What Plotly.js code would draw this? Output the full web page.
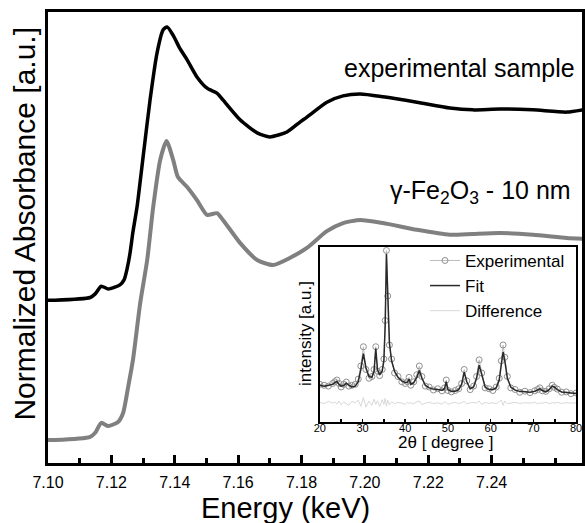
<!DOCTYPE html>
<html>
<head>
<meta charset="utf-8">
<script src="https://cdn.plot.ly/plotly-3.0.1.min.js"></script>
<style>html,body{margin:0;padding:0;background:#fff;}#chart{width:585px;height:523px;}</style>
</head>
<body>
<div id="chart"></div>
<script>
// XANES main panel (energy in keV, normalized absorbance with vertical offset)
const sampleEnergy = [7.1000,7.1022,7.1133,7.1149,7.1168,7.1190,7.1227,7.1240,7.1250,7.1259,7.1268,7.1281,7.1300,7.1322,7.1344,7.1363,7.1376,7.1395,7.1417,7.1439,7.1470,7.1502,7.1533,7.1552,7.1606,7.1660,7.1700,7.1754,7.1795,7.1817,7.1880,7.1931,7.1985,7.2057,7.2164,7.2268,7.2341,7.2426,7.2530,7.2637,7.2688];
const sampleAbs = [0.361,0.361,0.367,0.375,0.392,0.386,0.395,0.406,0.432,0.466,0.512,0.568,0.678,0.805,0.909,0.960,0.967,0.948,0.918,0.894,0.856,0.831,0.820,0.805,0.761,0.732,0.723,0.734,0.756,0.767,0.800,0.814,0.818,0.812,0.800,0.787,0.783,0.785,0.783,0.778,0.783];
const refEnergy = [7.1000,7.1022,7.1133,7.1149,7.1168,7.1190,7.1221,7.1237,7.1253,7.1268,7.1291,7.1313,7.1332,7.1354,7.1374,7.1395,7.1410,7.1439,7.1470,7.1502,7.1533,7.1552,7.1606,7.1660,7.1710,7.1764,7.1817,7.1880,7.1931,7.1985,7.2057,7.2164,7.2268,7.2341,7.2426,7.2530,7.2637,7.2688];
const refAbs = [0.051,0.051,0.058,0.067,0.089,0.082,0.091,0.111,0.169,0.228,0.355,0.450,0.568,0.672,0.714,0.672,0.634,0.612,0.583,0.550,0.554,0.539,0.488,0.450,0.439,0.455,0.477,0.514,0.532,0.539,0.532,0.517,0.506,0.508,0.510,0.506,0.499,0.497];
const energyTicks = [7.10,7.12,7.14,7.16,7.18,7.20,7.22,7.24];

// XRD inset (2theta in degrees, intensity a.u.)
const twoTheta = [20,21,22,23,23.5,24,24.5,25,25.6,26.2,
  26.8,27.5,28.3,29,29.6,30.2,30.8,31.5,32.2,32.7,
  33.1,33.5,34.0,34.6,35.0,35.3,35.6,35.9,36.3,36.8,
  37.5,38.3,39.2,40.0,40.5,40.9,41.3,42.0,42.7,43.3,
  43.9,44.7,45.6,46.6,47.6,48.6,49.2,49.6,50.0,50.8,
  51.7,52.5,53.2,53.8,54.4,55.2,56.0,56.7,57.3,57.9,
  58.7,59.6,60.5,61.3,62.0,62.5,62.9,63.3,63.9,64.7,
  65.7,66.8,68.0,69.2,70.3,71.0,71.5,72.1,72.9,73.7,
  74.4,74.9,75.6,76.6,77.7,78.8,80];
const xrdFit = [0.21,0.205,0.21,0.215,0.225,0.232,0.215,0.205,0.208,0.222,
  0.21,0.2,0.205,0.23,0.3,0.39,0.31,0.26,0.255,0.29,
  0.42,0.3,0.27,0.29,0.35,0.55,0.96,0.7,0.45,0.35,
  0.29,0.255,0.235,0.225,0.225,0.245,0.215,0.225,0.255,0.295,
  0.25,0.21,0.195,0.188,0.183,0.182,0.19,0.23,0.185,0.175,
  0.175,0.185,0.215,0.285,0.23,0.19,0.2,0.25,0.325,0.27,
  0.2,0.185,0.185,0.195,0.24,0.33,0.4,0.35,0.25,0.2,
  0.182,0.175,0.172,0.17,0.175,0.183,0.19,0.18,0.172,0.185,
  0.205,0.2,0.185,0.172,0.168,0.165,0.163];
const xrdExp = [0.215,0.21,0.205,0.22,0.23,0.24,0.22,0.2,0.215,0.228,
  0.205,0.21,0.215,0.245,0.32,0.43,0.3,0.25,0.26,0.3,
  0.43,0.29,0.265,0.3,0.36,0.58,0.98,0.72,0.44,0.36,
  0.28,0.26,0.23,0.22,0.23,0.255,0.21,0.23,0.27,0.32,
  0.26,0.205,0.2,0.183,0.19,0.178,0.195,0.24,0.18,0.172,
  0.18,0.19,0.22,0.3,0.235,0.185,0.205,0.26,0.355,0.28,
  0.195,0.19,0.18,0.2,0.25,0.35,0.44,0.37,0.26,0.195,
  0.186,0.17,0.176,0.168,0.178,0.186,0.195,0.178,0.175,0.19,
  0.21,0.198,0.188,0.17,0.172,0.162,0.166];
const xrdDiff = [0.112,0.105,0.118,0.108,0.115,0.102,0.12,0.098,0.114,0.106,
  0.095,0.118,0.11,0.125,0.09,0.14,0.085,0.12,0.095,0.13,
  0.1,0.122,0.088,0.128,0.1,0.135,0.09,0.125,0.098,0.115,
  0.105,0.112,0.108,0.1,0.114,0.106,0.11,0.104,0.116,0.12,
  0.1,0.108,0.113,0.105,0.11,0.102,0.115,0.112,0.1,0.108,
  0.112,0.106,0.11,0.118,0.104,0.11,0.112,0.108,0.12,0.1,
  0.112,0.106,0.11,0.104,0.115,0.125,0.095,0.12,0.105,0.11,
  0.112,0.106,0.11,0.108,0.112,0.104,0.11,0.107,0.113,0.105,
  0.11,0.108,0.112,0.106,0.11,0.108,0.109];
const thetaTicks = [20,30,40,50,60,70,80];

const FONT = 'Liberation Sans, Arial, Helvetica, sans-serif';

const traces = [
  {x: sampleEnergy, y: sampleAbs, mode: 'lines', line: {color: '#000000', width: 3.5, shape: 'spline', smoothing: 0.6}, showlegend: false, xaxis: 'x', yaxis: 'y', hoverinfo: 'skip'},
  {x: refEnergy, y: refAbs, mode: 'lines', line: {color: '#808080', width: 4, shape: 'spline', smoothing: 0.6}, showlegend: false, xaxis: 'x', yaxis: 'y', hoverinfo: 'skip'},
  {x: twoTheta, y: xrdExp, name: 'Experimental', mode: 'lines+markers', line: {color: '#bdbdbd', width: 1}, marker: {symbol: 'circle-open', size: 6, color: '#909090', line: {width: 1}}, xaxis: 'x2', yaxis: 'y2', hoverinfo: 'skip'},
  {x: twoTheta, y: xrdFit, name: 'Fit', mode: 'lines', line: {color: '#2a2a2a', width: 1.5}, xaxis: 'x2', yaxis: 'y2', hoverinfo: 'skip'},
  {x: twoTheta, y: xrdDiff, name: 'Difference', mode: 'lines', line: {color: '#d8d8d8', width: 1}, xaxis: 'x2', yaxis: 'y2', hoverinfo: 'skip'},
  // transparent copy of the fit on the label-only axis so that axis is drawn
  {x: twoTheta, y: xrdFit, mode: 'lines', line: {color: 'rgba(0,0,0,0)', width: 0}, opacity: 0, showlegend: false, xaxis: 'x3', yaxis: 'y2', hoverinfo: 'skip'}
];

const layout = {
  width: 585, height: 523,
  margin: {l: 48, r: 3, t: 12, b: 60},
  paper_bgcolor: '#ffffff', plot_bgcolor: '#ffffff',
  font: {family: FONT, color: '#000000'},
  xaxis: {
    domain: [0, 1], range: [7.10, 7.2685], anchor: 'y',
    tickvals: energyTicks, tickformat: '.2f',
    ticks: 'inside', ticklen: 8, tickwidth: 3, tickcolor: '#000',
    ticklabelstandoff: 3,
    minor: {dtick: 0.01, tick0: 7.10, ticks: 'inside', ticklen: 5, tickwidth: 3, tickcolor: '#000'},
    showline: true, linewidth: 3, linecolor: '#000', mirror: true,
    showgrid: false, zeroline: false,
    tickfont: {size: 16, family: FONT, color: '#000'}
  },
  yaxis: {
    domain: [0, 1], range: [0, 1], anchor: 'x',
    showticklabels: false, ticks: '',
    showline: true, linewidth: 3, linecolor: '#000', mirror: true,
    showgrid: false, zeroline: false
  },
  xaxis2: {
    domain: [0.509, 0.989], range: [20, 80], anchor: 'y2',
    tickvals: thetaTicks, ticks: 'inside', ticklen: 3, tickwidth: 1.5, tickcolor: '#000',
    showticklabels: false,
    minor: {dtick: 5, tick0: 20, ticks: 'inside', ticklen: 3, tickwidth: 1.5, tickcolor: '#000'},
    showline: true, linewidth: 2, linecolor: '#000', mirror: true,
    showgrid: false, zeroline: false
  },
  // label-only axis for the inset, sitting just under the inset frame
  xaxis3: {
    overlaying: 'x2', anchor: 'free', position: 0.0953,
    range: [20, 80], tickvals: thetaTicks, ticks: '',
    showline: false, showgrid: false, zeroline: false,
    tickfont: {size: 11, family: FONT, color: '#000'}
  },
  yaxis2: {
    domain: [0.0909, 0.479], range: [0, 1], anchor: 'x2',
    showticklabels: false, ticks: '',
    showline: true, linewidth: 2, linecolor: '#000', mirror: true,
    showgrid: false, zeroline: false
  },
  showlegend: true,
  legend: {
    x: 0.706, y: 0.488, xanchor: 'left', yanchor: 'top',
    bgcolor: 'rgba(0,0,0,0)', borderwidth: 0,
    font: {size: 17, family: FONT, color: '#000'},
    tracegroupgap: 0
  },
  annotations: [
    {text: 'experimental sample', xref: 'paper', yref: 'paper', x: 0.9906, y: 0.8758, xanchor: 'right', yanchor: 'middle', showarrow: false, font: {size: 25, family: FONT, color: '#000'}},
    {text: 'γ-Fe<sub>2</sub>O<sub>3</sub> - 10 nm', xref: 'paper', yref: 'paper', x: 0.983, y: 0.601, xanchor: 'right', yanchor: 'middle', showarrow: false, font: {size: 25, family: FONT, color: '#000'}},
    {text: 'Energy (keV)', xref: 'x', yref: 'paper', x: 7.175, y: -0.0998, xanchor: 'center', yanchor: 'middle', showarrow: false, font: {size: 29, family: FONT, color: '#000'}},
    {text: 'Normalized Absorbance [a.u.]', xref: 'paper', yref: 'paper', x: -0.0449, y: 0.531, xanchor: 'center', yanchor: 'middle', textangle: -90, showarrow: false, font: {size: 30, family: FONT, color: '#000'}},
    {text: 'intensity [a.u.]', xref: 'paper', yref: 'paper', x: 0.481, y: 0.288, xanchor: 'center', yanchor: 'middle', textangle: -90, showarrow: false, font: {size: 17, family: FONT, color: '#000'}},
    {text: '2θ [ degree ]', xref: 'paper', yref: 'paper', x: 0.745, y: 0.0444, xanchor: 'center', yanchor: 'middle', showarrow: false, font: {size: 17, family: FONT, color: '#000'}}
  ]
};

Plotly.newPlot('chart', traces, layout, {displayModeBar: false, staticPlot: true});
</script>
</body>
</html>
